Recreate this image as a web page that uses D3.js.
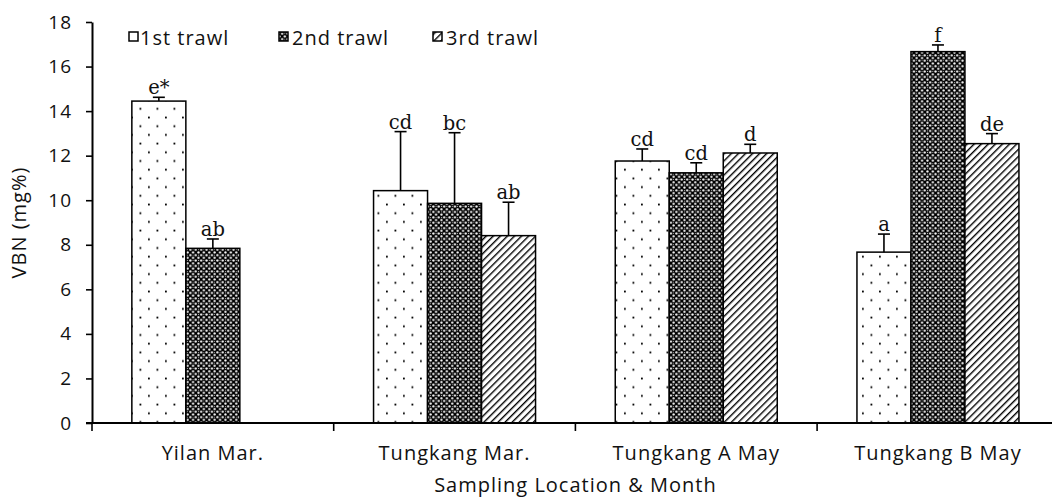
<!DOCTYPE html>
<html>
<head>
<meta charset="utf-8">
<script src="https://cdn.jsdelivr.net/npm/d3@7"></script>
<style>
  html, body { margin: 0; padding: 0; background: #fff; }
  svg { display: block; }
  .axis-text { font-family: "Open Sans", Lato, sans-serif; font-size: 20px; letter-spacing: 1px; fill: #111; }
  .tick-text { font-family: "Open Sans", Lato, sans-serif; font-size: 19px; letter-spacing: 1px; fill: #111; }
  .letter { font-family: "DejaVu Serif", "Liberation Serif", serif; font-size: 19.5px; fill: #111; }
</style>
</head>
<body>
<svg id="chart" width="1052" height="502"></svg>
<script>
// categories and series
var categories = ["Yilan Mar.", "Tungkang Mar.", "Tungkang A May", "Tungkang B May"];
var seriesNames = ["1st trawl", "2nd trawl", "3rd trawl"];

// mean VBN (mg%)
var trawl1 = [14.45, 10.43, 11.76, 7.67];
var trawl2 = [7.84, 9.86, 11.23, 16.67];
var trawl3 = [null, 8.41, 12.12, 12.54];

// upper error bars
var err1 = [0.17, 2.65, 0.54, 0.81];
var err2 = [0.42, 3.17, 0.45, 0.30];
var err3 = [null, 1.50, 0.39, 0.45];

// significance letters
var letters1 = ["e*", "cd", "cd", "a"];
var letters2 = ["ab", "bc", "cd", "f"];
var letters3 = [null, "ab", "d", "de"];

var yTicks = [0, 2, 4, 6, 8, 10, 12, 14, 16, 18];

var svg = d3.select("#chart");

var plotLeft = 92, plotTop = 22, plotBottom = 423;
var band = 241.7;

var x = d3.scaleBand()
    .domain(categories)
    .range([plotLeft, plotLeft + band * categories.length])
    .padding(0);

var xs = d3.scaleBand()
    .domain(seriesNames)
    .range([0, x.bandwidth()])
    .paddingInner(0)
    .paddingOuter(0.738);

var y = d3.scaleLinear().domain([0, 18]).range([plotBottom, plotTop]);

// patterns
var defs = svg.append("defs");

var p1 = defs.append("pattern").attr("id", "pat1")
    .attr("patternUnits", "userSpaceOnUse")
    .attr("width", 17).attr("height", 17.4);
p1.append("rect").attr("width", 17).attr("height", 17.4).attr("fill", "#fff");
p1.append("rect").attr("x", 3.5).attr("y", 3.5).attr("width", 1.8).attr("height", 1.8).attr("fill", "#000");
p1.append("rect").attr("x", 12).attr("y", 12.2).attr("width", 1.8).attr("height", 1.8).attr("fill", "#000");

var p2 = defs.append("pattern").attr("id", "pat2")
    .attr("patternUnits", "userSpaceOnUse")
    .attr("width", 5.4).attr("height", 5.4);
p2.append("rect").attr("width", 5.4).attr("height", 5.4).attr("fill", "#000");
p2.append("circle").attr("cx", 1.35).attr("cy", 1.35).attr("r", 1.15).attr("fill", "#fff");
p2.append("circle").attr("cx", 4.05).attr("cy", 4.05).attr("r", 1.15).attr("fill", "#fff");
p2.append("rect").attr("x", 3.6).attr("y", 0.9).attr("width", 0.9).attr("height", 0.9).attr("fill", "#bbb");

var p3 = defs.append("pattern").attr("id", "pat3")
    .attr("patternUnits", "userSpaceOnUse")
    .attr("width", 5).attr("height", 5)
    .attr("patternTransform", "rotate(45)");
p3.append("rect").attr("width", 5).attr("height", 5).attr("fill", "#fff");
p3.append("rect").attr("x", 0).attr("y", 0).attr("width", 1.4).attr("height", 5).attr("fill", "#000");

var fills = ["url(#pat1)", "url(#pat2)", "url(#pat3)"];

// rows of bar data
var rows = [];
categories.forEach(function(c, i) {
    var vals = [trawl1[i], trawl2[i], trawl3[i]];
    var errs = [err1[i], err2[i], err3[i]];
    var lets = [letters1[i], letters2[i], letters3[i]];
    seriesNames.forEach(function(s, j) {
        if (vals[j] == null) return;
        rows.push({cat: c, series: s, j: j, value: vals[j], err: errs[j], letter: lets[j]});
    });
});

// bars
svg.append("g").selectAll("rect")
    .data(rows)
    .join("rect")
    .attr("x", function(d) { return x(d.cat) + xs(d.series); })
    .attr("y", function(d) { return y(d.value); })
    .attr("width", xs.bandwidth())
    .attr("height", function(d) { return y(0) - y(d.value); })
    .attr("fill", function(d) { return fills[d.j]; })
    .attr("stroke", "#000")
    .attr("stroke-width", 1.5);

// error bars (upper only)
var eb = svg.append("g").attr("stroke", "#000").attr("stroke-width", 1.6);
rows.forEach(function(d) {
    var cx = x(d.cat) + xs(d.series) + xs.bandwidth() / 2;
    eb.append("line")
        .attr("x1", cx).attr("x2", cx)
        .attr("y1", y(d.value)).attr("y2", y(d.value + d.err));
    eb.append("line")
        .attr("x1", cx - 6).attr("x2", cx + 6)
        .attr("y1", y(d.value + d.err)).attr("y2", y(d.value + d.err));
});

// letters
svg.append("g").selectAll("text")
    .data(rows)
    .join("text")
    .attr("class", "letter")
    .attr("text-anchor", "middle")
    .attr("x", function(d) { return x(d.cat) + xs(d.series) + xs.bandwidth() / 2; })
    .attr("y", function(d) { return y(d.value + d.err) - 3; })
    .text(function(d) { return d.letter; });

// y axis
var yAxis = svg.append("g")
    .attr("transform", "translate(" + plotLeft + ",0)")
    .call(d3.axisLeft(y).tickValues(yTicks).tickSize(6).tickSizeOuter(0).tickPadding(14));
yAxis.select(".domain").attr("stroke-width", 2);
yAxis.selectAll(".tick line").attr("stroke-width", 1.6);
yAxis.selectAll(".tick text")
    .attr("font-family", null).attr("font-size", null)
    .attr("class", "tick-text");

// x axis: line plus ticks at band boundaries
var xg = svg.append("g");
xg.append("line")
    .attr("x1", plotLeft - 6).attr("x2", x.range()[1])
    .attr("y1", y(0)).attr("y2", y(0))
    .attr("stroke", "#000").attr("stroke-width", 2);
var bounds = categories.map(function(c) { return x(c); }).concat([x.range()[1]]);
xg.selectAll("line.tk")
    .data(bounds)
    .join("line")
    .attr("class", "tk")
    .attr("x1", function(d) { return d; }).attr("x2", function(d) { return d; })
    .attr("y1", y(0)).attr("y2", y(0) + 8)
    .attr("stroke", "#000").attr("stroke-width", 1.6);
xg.selectAll("text")
    .data(categories)
    .join("text")
    .attr("class", "axis-text")
    .attr("text-anchor", "middle")
    .attr("x", function(d) { return x(d) + x.bandwidth() / 2; })
    .attr("y", 460)
    .text(function(d) { return d; });

// axis titles
svg.append("text")
    .attr("class", "axis-text")
    .attr("text-anchor", "middle")
    .attr("x", (x.range()[0] + x.range()[1]) / 2)
    .attr("y", 492)
    .text("Sampling Location & Month");

svg.append("text")
    .attr("class", "axis-text")
    .attr("text-anchor", "middle")
    .attr("transform", "translate(26," + ((plotTop + plotBottom) / 2) + ") rotate(-90)")
    .text("VBN (mg%)");

// legend
var legendX = [129, 279, 433];
var legendTextX = [140, 292, 446];
var lg = svg.append("g");
seriesNames.forEach(function(s, j) {
    lg.append("rect")
        .attr("x", legendX[j]).attr("y", 32)
        .attr("width", 9).attr("height", 9)
        .attr("fill", fills[j])
        .attr("stroke", "#000").attr("stroke-width", 1.5);
    lg.append("text")
        .attr("class", "axis-text")
        .attr("x", legendTextX[j]).attr("y", 45)
        .text(s);
});
</script>
</body>
</html>
